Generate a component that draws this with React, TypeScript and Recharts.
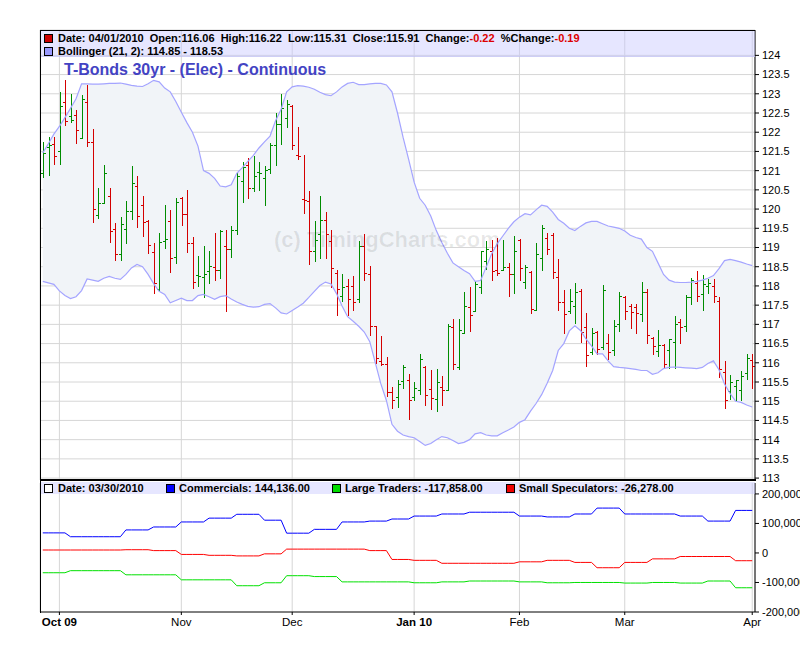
import React from "react";
import { ComposedChart, Bar, Line, Area, XAxis, YAxis, CartesianGrid } from "recharts";

// trading calendar (Sep 28 2009 .. Apr 1 2010), exchange holidays skipped
const holidays = ["2009-11-26", "2009-12-25", "2010-01-01", "2010-01-18", "2010-02-15"];
const monthLabels = ["Oct 09", "Nov", "Dec", "Jan 10", "Feb", "Mar", "Apr"];
const boldLabels = ["Oct 09", "Jan 10"];

const open = [120.95,121.62,121.70,121.50,122.79,122.43,122.45,121.84,122.79,121.74,
  119.84,120.16,120.34,119.48,118.82,119.47,119.94,120.61,120.10,119.69,
  118.88,117.92,119.17,119.70,118.75,120.30,119.86,119.12,118.29,118.24,
  118.39,118.48,118.42,119.03,118.95,119.46,120.72,121.16,120.56,120.96,
  120.80,121.03,121.68,122.21,122.36,122.67,121.40,120.27,120.22,118.91,
  119.34,119.72,119.17,118.33,117.73,117.99,118.01,117.67,119.05,118.32,
  116.95,116.04,115.96,115.24,115.12,115.52,115.55,115.10,115.30,115.88,
  115.32,115.06,115.37,115.28,116.94,115.89,116.78,117.45,117.36,117.97,
  118.66,118.90,118.42,118.42,118.50,118.30,119.20,118.10,118.36,117.38,
  118.72,119.26,119.33,118.24,117.59,117.36,117.49,117.88,116.93,116.29,
  116.80,116.42,116.52,116.32,117.01,117.72,117.49,117.45,117.27,117.85,
  116.65,116.31,116.45,116.32,116.54,117.07,116.95,117.72,118.08,117.78,
  118.00,117.99,117.62,115.77,115.27,115.40,115.30,115.74,116.06];
const high = [121.74,121.88,121.88,123.04,123.35,123.00,122.58,122.96,123.22,122.08,
  120.56,121.15,120.54,119.65,119.80,120.21,121.11,120.85,120.35,119.72,
  119.11,119.38,120.10,119.97,120.28,120.31,120.50,119.27,118.79,119.05,
  118.90,119.38,119.46,119.45,119.56,120.94,121.23,121.33,121.38,121.23,
  121.11,121.73,122.50,123.00,122.85,122.70,122.13,121.42,120.47,119.69,
  120.33,119.92,119.46,118.42,118.30,118.19,118.27,119.18,119.34,118.53,
  116.97,116.71,116.15,115.38,115.56,115.93,115.70,115.50,116.22,115.92,
  115.80,115.83,115.66,117.00,117.13,117.15,117.83,117.97,118.14,118.92,
  119.18,119.20,119.25,119.20,118.60,119.30,119.22,118.55,118.38,119.11,
  119.59,119.37,119.37,118.70,117.90,117.92,118.07,117.92,117.29,116.90,
  116.82,118.03,116.75,117.12,117.84,117.75,117.53,117.52,118.10,117.92,
  116.67,116.86,116.50,116.62,117.22,117.14,117.76,118.21,118.38,118.29,
  118.18,118.18,117.70,116.04,115.67,115.55,115.78,116.24,116.22];
const low = [120.82,120.87,121.15,121.15,122.17,122.23,121.70,121.83,121.62,119.64,
  119.75,120.12,119.13,118.65,118.64,119.09,119.72,119.52,119.28,118.83,
  117.78,117.85,118.95,118.34,118.56,119.56,118.86,117.91,117.97,117.69,
  118.04,118.13,118.18,117.32,118.73,119.33,120.17,120.26,120.44,120.46,
  120.08,120.92,121.13,121.66,122.12,121.53,121.27,119.88,118.55,118.62,
  118.69,118.71,117.95,117.21,117.58,117.23,117.36,117.55,118.14,116.69,
  115.97,115.92,115.12,114.80,114.83,115.32,114.50,115.00,115.15,114.88,
  114.76,114.72,114.88,115.28,115.81,115.81,116.78,116.80,117.36,117.79,
  118.42,118.14,118.27,118.42,117.72,117.80,118.12,117.92,117.27,117.36,
  118.38,118.81,118.18,117.36,116.74,117.27,117.01,116.51,115.89,116.19,
  116.19,116.32,116.06,116.17,116.80,117.12,116.88,116.75,117.06,116.50,
  116.21,116.15,115.83,115.85,115.85,116.50,116.81,117.50,117.58,117.35,
  117.78,117.56,115.60,114.81,115.02,114.98,115.00,115.55,115.31];
const close = [121.46,121.68,121.39,122.67,122.28,122.33,122.05,122.87,121.74,120.00,
  120.16,120.95,119.44,118.82,119.60,119.94,120.68,119.82,119.66,119.06,
  118.08,119.15,119.23,118.72,120.18,119.86,119.12,118.11,118.26,118.31,
  118.51,118.42,119.43,118.95,119.45,120.85,121.10,120.54,120.87,120.94,
  121.01,121.67,122.21,122.62,122.74,121.68,121.37,120.24,118.91,119.20,
  119.72,119.34,118.47,117.91,117.97,117.65,117.58,119.04,118.33,116.95,
  116.13,115.96,115.24,115.02,115.44,115.90,115.02,115.35,116.10,115.15,
  115.09,115.50,115.28,116.97,115.98,116.85,117.48,117.24,118.05,118.90,
  118.95,118.40,118.33,118.50,118.30,118.92,118.47,118.50,117.39,118.83,
  119.51,118.96,118.35,117.59,117.27,117.62,117.84,116.81,116.19,116.78,
  116.35,117.90,116.28,116.95,117.73,117.36,117.33,117.30,117.84,116.72,
  116.44,116.47,115.98,116.61,117.00,116.92,117.72,118.16,117.74,118.05,
  118.08,117.74,115.84,115.02,115.50,115.55,115.65,116.13,115.91];

// Bollinger (21, 2)
const bbUpper = [121.46,121.70,121.95,122.15,122.38,122.62,122.87,123.26,123.26,123.25,
  123.25,123.26,123.27,123.27,123.28,123.25,123.22,123.20,123.19,123.26,
  123.35,123.31,123.15,123.05,122.80,122.52,122.25,122.00,121.64,121.00,
  120.93,120.80,120.60,120.58,120.63,120.93,121.08,121.24,121.40,121.59,
  121.75,121.90,122.30,122.60,123.05,123.18,123.21,123.20,123.17,123.12,
  123.04,122.98,122.95,123.05,123.18,123.27,123.30,123.24,123.24,123.26,
  123.27,123.27,123.23,123.05,122.50,121.87,121.30,120.70,120.28,120.10,
  119.82,119.44,119.13,118.85,118.60,118.50,118.40,118.32,118.12,118.14,
  118.49,118.84,119.10,119.30,119.50,119.67,119.79,119.88,119.85,119.98,
  120.10,120.07,119.92,119.73,119.63,119.50,119.44,119.55,119.64,119.68,
  119.68,119.62,119.56,119.53,119.50,119.43,119.32,119.26,119.22,119.00,
  118.90,118.60,118.30,118.15,118.10,118.09,118.09,118.10,118.12,118.15,
  118.20,118.27,118.45,118.66,118.69,118.66,118.62,118.57,118.53];
const bbLower = [118.12,118.08,118.04,117.87,117.75,117.67,117.72,117.88,118.18,118.15,
  118.12,118.20,118.25,118.20,118.17,118.30,118.47,118.56,118.50,118.30,
  118.06,117.86,117.78,117.56,117.62,117.68,117.62,117.62,117.75,117.78,
  117.72,117.65,117.72,117.75,117.66,117.58,117.52,117.47,117.45,117.46,
  117.52,117.54,117.43,117.30,117.27,117.36,117.45,117.55,117.70,117.86,
  118.01,118.10,118.05,117.80,117.48,117.20,117.08,116.95,116.80,116.55,
  116.00,115.45,115.02,114.40,114.22,114.12,114.08,114.05,113.95,113.85,
  113.90,114.00,114.08,114.05,113.98,113.90,113.93,114.00,114.15,114.18,
  114.12,114.10,114.10,114.18,114.25,114.33,114.45,114.52,114.74,114.94,
  115.17,115.47,115.80,116.32,116.50,116.83,116.96,116.84,116.62,116.44,
  116.23,116.23,116.05,115.90,115.88,115.87,115.85,115.83,115.80,115.80,
  115.70,115.74,115.85,115.88,115.89,115.88,115.87,115.86,115.85,115.88,
  115.98,116.05,115.82,115.45,115.20,115.00,114.97,114.90,114.85];

// weekly COT net positions (one value per calendar week, from week of Sep 28)
const commercials = [68000,55000,55000,78000,88000,105000,118000,131000,111000,67000,80000,105000,108000,115000,
  125000,132000,138000,138000,125000,122000,132000,152000,132000,132000,125000,108000,144136];
const largeTraders = [-67000,-60000,-60000,-74000,-74000,-91000,-91000,-111000,-101000,-77000,-80000,-98000,-98000,-98000,
  -101000,-98000,-95000,-95000,-98000,-101000,-100000,-100000,-102000,-100000,-102000,-95000,-117858];
const smallSpecs = [10000,10000,10000,11000,8000,-5000,-8000,-10000,-3000,13000,13000,13000,8000,-22000,
  -25000,-35000,-35000,-35000,-30000,-25000,-32000,-50000,-32000,-20000,-12000,-12000,-26278];

const priceTicks = [113,113.5,114,114.5,115,115.5,116,116.5,117,117.5,118,118.5,119,119.5,120,120.5,121,121.5,122,122.5,123,123.5,124];
const cotTicks = [-200000, -100000, 0, 100000, 200000];

const GREEN = "#008c00";
const RED = "#d40000";
const GRID = "#d6d6d6";
const FONT = "'Liberation Sans', Arial, sans-serif";
const NARROW = "'Liberation Sans Narrow', 'Liberation Sans', Arial, sans-serif";

function tradingDays(): string[] {
  const out: string[] = [];
  const d = new Date(Date.UTC(2009, 8, 28));
  const end = Date.UTC(2010, 3, 1);
  while (d.getTime() <= end) {
    const wd = d.getUTCDay();
    const s = d.toISOString().slice(0, 10);
    if (wd !== 0 && wd !== 6 && !holidays.includes(s)) out.push(s);
    d.setUTCDate(d.getUTCDate() + 1);
  }
  return out;
}

const dates = tradingDays();
const start = Date.UTC(2009, 8, 28);
const rows = dates.map((s, i) => {
  const week = Math.floor((Date.parse(s) - start) / (7 * 86400000));
  const prev = i > 0 ? close[i - 1] : open[i];
  return {
    i,
    o: open[i], h: high[i], l: low[i], c: close[i],
    up: close[i] >= prev,
    range: [low[i], high[i]],
    bu: bbUpper[i], bl: bbLower[i],
    band: [bbLower[i], bbUpper[i]],
    com: commercials[week], lt: largeTraders[week], ss: smallSpecs[week],
  };
});

// first trading day of each month from October on
const monthIdx: number[] = [];
dates.forEach((s, i) => {
  if (i > 0 && s.slice(5, 7) !== dates[i - 1].slice(5, 7)) monthIdx.push(i);
});

const OhlcShape = (props: any) => {
  const { x, y, width, height, payload } = props;
  if (x == null || y == null) return null;
  const top = Math.min(y, y + height);
  const bot = Math.max(y, y + height);
  const { o, h, l, c, up } = payload;
  const cx = Math.round(x + width / 2) + 0.5;
  const py = (v: number) => Math.round(top + ((h - v) / (h - l || 1)) * (bot - top)) + 0.5;
  const col = up ? GREEN : RED;
  return (
    <g stroke={col} strokeWidth={1} shapeRendering="crispEdges">
      <line x1={cx} x2={cx} y1={top} y2={bot} />
      <line x1={cx - 2.5} x2={cx} y1={py(o)} y2={py(o)} />
      <line x1={cx} x2={cx + 2.5} y1={py(c)} y2={py(c)} />
    </g>
  );
};

const MonthTick = (props: any) => {
  const { x, y, payload } = props;
  const k = monthIdx.indexOf(payload.value);
  const label = monthLabels[k] ?? "";
  return (
    <text x={x} y={y + 9} textAnchor="middle" fontSize={11.5} fontFamily={NARROW}
      fontWeight={boldLabels.includes(label) ? "bold" : "normal"} fill="#000">
      {label}
    </text>
  );
};

const Square = ({ color, left, top }: { color: string; left: number; top: number }) => (
  <div style={{ position: "absolute", left, top, width: 7, height: 7, background: color, border: "1px solid #000" }} />
);

const txt: React.CSSProperties = {
  position: "absolute", fontFamily: FONT, fontSize: 11, fontWeight: "bold", color: "#000",
  whiteSpace: "pre", lineHeight: "13px",
};

export default function App() {
  return (
    <div style={{ position: "absolute", left: 0, top: 0, width: 800, height: 647, background: "#fff", overflow: "hidden", fontFamily: FONT }}>
      <div style={{ position: "absolute", left: 0, top: 0 }}>
        <ComposedChart width={800} height={496} data={rows} margin={{ top: 30, right: 0, bottom: 16, left: 40 }}>
          <CartesianGrid stroke={GRID} />
          <XAxis type="number" dataKey="i" domain={[-0.5, 128.5]} ticks={monthIdx} allowDataOverflow hide />
          <YAxis orientation="right" type="number" domain={[112.95, 124.66]} ticks={priceTicks} allowDataOverflow
            width={45} interval={0} axisLine={{ stroke: "#000" }} tickLine={{ stroke: "#000" }} tickSize={4} tickMargin={3}
            tick={{ fill: "#000", fontSize: 11, fontFamily: FONT, textAnchor: "start" }} />
          <Area type="linear" dataKey="band" stroke="none" fill="#f1f4f8" fillOpacity={1} isAnimationActive={false} />
          <Line type="linear" dataKey="bu" stroke="#a4a4ff" strokeWidth={1.2} dot={false} isAnimationActive={false} />
          <Line type="linear" dataKey="bl" stroke="#a4a4ff" strokeWidth={1.2} dot={false} isAnimationActive={false} />
          <Bar dataKey="range" shape={OhlcShape} barSize={4} isAnimationActive={false} />
        </ComposedChart>
      </div>

      <div style={{ position: "absolute", left: 0, top: 481 }}>
        <ComposedChart width={800} height={165} data={rows} margin={{ top: 2, right: 0, bottom: 0, left: 40 }}>
          <CartesianGrid stroke={GRID} horizontal={false} />
          <XAxis type="number" dataKey="i" domain={[-0.5, 128.5]} ticks={monthIdx} allowDataOverflow interval={0}
            height={34} axisLine={{ stroke: "#000" }} tickLine={{ stroke: "#000" }} tickSize={3} tick={<MonthTick />} />
          <YAxis orientation="right" type="number" domain={[-200000, 237000]} ticks={cotTicks} allowDataOverflow
            width={45} interval={0} axisLine={{ stroke: "#000" }} tickLine={{ stroke: "#000" }} tickSize={4} tickMargin={3}
            tickFormatter={(v: number) => v.toLocaleString("en-US")}
            tick={{ fill: "#000", fontSize: 11, fontFamily: FONT, textAnchor: "start" }} />
          <Line type="linear" dataKey="com" stroke="#0000ff" strokeWidth={1} dot={false} isAnimationActive={false} />
          <Line type="linear" dataKey="ss" stroke="#ff0000" strokeWidth={1} dot={false} isAnimationActive={false} />
          <Line type="linear" dataKey="lt" stroke="#00e000" strokeWidth={1} dot={false} isAnimationActive={false} />
        </ComposedChart>
      </div>

      {/* watermark */}
      <div style={{ position: "absolute", left: 274, top: 227, fontFamily: FONT, fontSize: 22, fontWeight: "bold",
        color: "rgba(0,0,0,0.09)", whiteSpace: "pre", pointerEvents: "none" }}>(c) TimingCharts.com</div>

      {/* frames */}
      <div style={{ position: "absolute", left: 40, top: 30, width: 715, height: 583, borderLeft: "1px solid #000",
        borderTop: "1px solid #000", boxSizing: "border-box" }} />
      <div style={{ position: "absolute", left: 40, top: 479, width: 716, height: 2, background: "#000" }} />

      {/* top header */}
      <div style={{ position: "absolute", left: 41, top: 31, width: 714, height: 26, background: "rgba(200,200,255,0.45)",
        borderBottom: "1px solid rgba(190,190,240,0.6)", boxSizing: "border-box" }} />
      <Square color="#cc0000" left={44} top={34} />
      <div style={{ ...txt, left: 58, top: 32 }}>
        {"Date: 04/01/2010  Open:116.06  High:116.22  Low:115.31  Close:115.91  Change:"}
        <span style={{ color: "#dd0000" }}>-0.22</span>
        {"  %Change:"}
        <span style={{ color: "#dd0000" }}>-0.19</span>
      </div>
      <Square color="#9999ff" left={44} top={47} />
      <div style={{ ...txt, left: 58, top: 45 }}>{"Bollinger (21, 2): 114.85 - 118.53"}</div>

      <div style={{ position: "absolute", left: 64, top: 61, fontFamily: FONT, fontSize: 16, fontWeight: "bold",
        color: "#4343c3", whiteSpace: "pre" }}>T-Bonds 30yr - (Elec) - Continuous</div>

      {/* bottom header */}
      <div style={{ position: "absolute", left: 41, top: 482, width: 714, height: 12, background: "rgba(200,200,255,0.45)" }} />
      <Square color="#ffffff" left={44} top={484} />
      <div style={{ ...txt, left: 58, top: 482 }}>{"Date: 03/30/2010"}</div>
      <Square color="#0000ff" left={166} top={484} />
      <div style={{ ...txt, left: 179, top: 482 }}>{"Commercials: 144,136.00"}</div>
      <Square color="#00dd00" left={332} top={484} />
      <div style={{ ...txt, left: 345, top: 482 }}>{"Large Traders: -117,858.00"}</div>
      <Square color="#ee0000" left={506} top={484} />
      <div style={{ ...txt, left: 519, top: 482 }}>{"Small Speculators: -26,278.00"}</div>
    </div>
  );
}
